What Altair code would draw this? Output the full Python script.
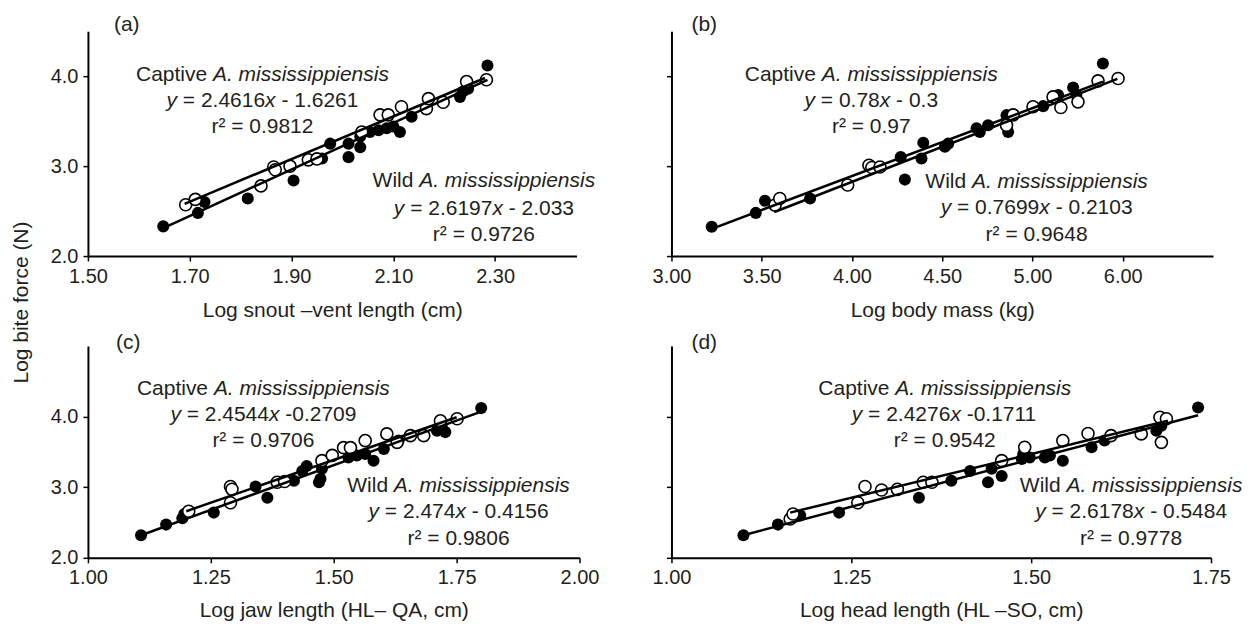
import altair as alt
import pandas as pd

FONT = "Liberation Sans"
INK = "#231f20"
ANN_SIZE = 21
PT = 145

# ---------------- panel (a): log snout-vent length ----------------
a_cap_x = [1.692, 1.711, 1.840, 1.865, 1.868, 1.897, 1.933, 1.950, 2.038, 2.074, 2.090, 2.116, 2.165, 2.169, 2.198, 2.244, 2.283]
a_cap_y = [2.57, 2.63, 2.78, 2.99, 2.96, 3.00, 3.07, 3.08, 3.38, 3.57, 3.57, 3.66, 3.64, 3.75, 3.71, 3.94, 3.96]
a_wild_x = [1.648, 1.716, 1.729, 1.814, 1.904, 1.960, 1.976, 2.012, 2.012, 2.035, 2.035, 2.054, 2.071, 2.087, 2.100, 2.113, 2.136, 2.231, 2.237, 2.247, 2.285]
a_wild_y = [2.33, 2.48, 2.60, 2.64, 2.84, 3.085, 3.25, 3.10, 3.25, 3.21, 3.33, 3.38, 3.40, 3.42, 3.44, 3.38, 3.55, 3.77, 3.83, 3.86, 4.12]
a_cap_line_x = [1.69, 2.28]
a_cap_line_y = [2.58, 3.98]
a_wild_line_x = [1.648, 2.285]
a_wild_line_y = [2.31, 3.96]

# ---------------- panel (b): log body mass ----------------
b_cap_x = [3.574, 3.600, 3.976, 4.094, 4.110, 4.155, 4.856, 4.893, 5.003, 5.114, 5.157, 5.252, 5.363, 5.474]
b_cap_y = [2.567, 2.64, 2.79, 3.01, 2.985, 2.99, 3.455, 3.57, 3.66, 3.77, 3.652, 3.715, 3.948, 3.974]
b_wild_x = [3.223, 3.467, 3.518, 3.768, 4.270, 4.293, 4.395, 4.385, 4.515, 4.533, 4.690, 4.708, 4.754, 4.856, 4.865, 5.059, 5.142, 5.225, 5.243, 5.390]
b_wild_y = [2.326, 2.48, 2.615, 2.64, 3.10, 2.85, 3.26, 3.085, 3.215, 3.25, 3.42, 3.38, 3.455, 3.567, 3.38, 3.667, 3.79, 3.874, 3.79, 4.14]
b_cap_line_x = [3.57, 5.47]
b_cap_line_y = [2.49, 3.97]
b_wild_line_x = [3.22, 5.39]
b_wild_line_y = [2.30, 3.94]

# ---------------- panel (c): log jaw length ----------------
c_cap_x = [1.205, 1.290, 1.293, 1.290, 1.385, 1.400, 1.476, 1.497, 1.520, 1.534, 1.564, 1.608, 1.629, 1.656, 1.683, 1.717, 1.751]
c_cap_y = [2.66, 3.01, 2.97, 2.78, 3.07, 3.08, 3.376, 3.45, 3.56, 3.56, 3.66, 3.755, 3.635, 3.73, 3.73, 3.94, 3.97]
c_wild_x = [1.108, 1.159, 1.192, 1.196, 1.256, 1.341, 1.365, 1.419, 1.436, 1.445, 1.470, 1.473, 1.476, 1.530, 1.547, 1.564, 1.581, 1.602, 1.632, 1.710, 1.720, 1.727, 1.800]
c_wild_y = [2.32, 2.47, 2.56, 2.62, 2.64, 3.01, 2.85, 3.09, 3.23, 3.30, 3.07, 3.12, 3.26, 3.42, 3.45, 3.47, 3.376, 3.54, 3.66, 3.80, 3.85, 3.78, 4.12]
c_cap_line_x = [1.20, 1.75]
c_cap_line_y = [2.66, 3.99]
c_wild_line_x = [1.108, 1.80]
c_wild_line_y = [2.32, 4.07]

# ---------------- panel (d): log head length ----------------
d_cap_x = [1.165, 1.169, 1.259, 1.269, 1.292, 1.314, 1.350, 1.362, 1.459, 1.491, 1.544, 1.579, 1.611, 1.653, 1.679, 1.688, 1.681]
d_cap_y = [2.55, 2.62, 2.78, 3.01, 2.96, 2.97, 3.07, 3.07, 3.376, 3.565, 3.66, 3.76, 3.73, 3.755, 3.99, 3.97, 3.635]
d_wild_x = [1.100, 1.148, 1.179, 1.233, 1.344, 1.389, 1.415, 1.440, 1.445, 1.459, 1.487, 1.489, 1.498, 1.519, 1.526, 1.544, 1.584, 1.602, 1.674, 1.681, 1.732]
d_wild_y = [2.32, 2.47, 2.60, 2.64, 2.85, 3.09, 3.23, 3.07, 3.26, 3.16, 3.40, 3.47, 3.42, 3.42, 3.45, 3.376, 3.565, 3.66, 3.80, 3.87, 4.13]
d_cap_line_x = [1.165, 1.69]
d_cap_line_y = [2.64, 3.94]
d_wild_line_x = [1.10, 1.732]
d_wild_line_y = [2.32, 4.02]

# ---------------- axes: ticks and labels ----------------
a_xticks = [1.5, 1.7, 1.9, 2.1, 2.3]
a_xlabels = ["1.50", "1.70", "1.90", "2.10", "2.30"]
b_xticks = [3.0, 3.5, 4.0, 4.5, 5.0, 5.5]
b_xlabels = ["3.00", "3.50", "4.00", "4.50", "5.00", "6.00"]
c_xticks = [1.0, 1.25, 1.5, 1.75, 2.0]
c_xlabels = ["1.00", "1.25", "1.50", "1.75", "2.00"]
d_xticks = [1.0, 1.25, 1.5, 1.75]
d_xlabels = ["1.00", "1.25", "1.50", "1.75"]
y_ticks = [2, 3, 4]
y_labels = ["2.0", "3.0", "4.0"]

x_titles = ["Log snout \u2013vent length (cm)", "Log body mass (kg)",
            "Log jaw length (HL\u2013 QA, cm)", "Log head length (HL \u2013SO, cm)"]
y_title = "Log bite force (N)"
tags = ["(a)", "(b)", "(c)", "(d)"]

# ---------------- annotation texts ----------------
cap_name = ["Captive", "A. mississippiensis"]
wild_name = ["Wild", "A. mississippiensis"]
a_cap_eq = ["2.4616", "- 1.6261", "0.9812"]
a_wild_eq = ["2.6197", "- 2.033", "0.9726"]
b_cap_eq = ["0.78", "- 0.3", "0.97"]
b_wild_eq = ["0.7699", "- 0.2103", "0.9648"]
c_cap_eq = ["2.4544", "-0.2709", "0.9706"]
c_wild_eq = ["2.474", "- 0.4156", "0.9806"]
d_cap_eq = ["2.4276", "-0.1711", "0.9542"]
d_wild_eq = ["2.6178", "- 0.5484", "0.9778"]

# annotation anchors (data units): centre x, and y of the three lines
a_cap_at = (1.843, [4.017, 3.722, 3.433])
a_wild_at = (2.278, [2.833, 2.522, 2.233])
b_cap_at = (4.107, [4.017, 3.722, 3.433])
b_wild_at = (5.023, [2.826, 2.533, 2.233])
c_cap_at = (1.357, [4.397, 4.028, 3.660])
c_wild_at = (1.754, [3.021, 2.643, 2.265])
d_cap_at = (1.380, [4.397, 4.028, 3.660])
d_wild_at = (1.639, [3.021, 2.643, 2.265])

# Arial / Liberation Sans advance widths (em)
METRICS = {" ": 0.278, ".": 0.278, "=": 0.584, "-": 0.333, "x": 0.5, "y": 0.5,
           "r": 0.333, "\u00b2": 0.333, "C": 0.722, "a": 0.556, "p": 0.556,
           "t": 0.278, "i": 0.222, "v": 0.5, "e": 0.556, "A": 0.667, "m": 0.833,
           "s": 0.5, "n": 0.556, "W": 0.944, "l": 0.222, "d": 0.556}


def tw(s):
    return sum(METRICS.get(ch, 0.556) for ch in s) * ANN_SIZE


def block_lines(name, eq, at):
    xc, ys = at
    l1 = [(name[0] + " ", "normal"), (name[1], "italic")]
    l2 = [("y", "italic"), (" = " + eq[0], "normal"), ("x", "italic"), (" " + eq[1], "normal")]
    l3 = [("r\u00b2 = " + eq[2], "normal")]
    return [(xc, ys[0], l1), (xc, ys[1], l2), (xc, ys[2], l3)]


def label_expr(values, labels):
    expr = "''"
    for v, l in zip(reversed(values), reversed(labels)):
        expr = f"abs(datum.value - {v}) < 1e-6 ? '{l}' : ({expr})"
    return expr


def panel(tag, cap, wild, capline, wildline, xdom, ydom, xticks, xlabels, xtitle,
          w, h, show_ylabels, ann, tag_dx, tag_offset, title_pad, with_ytitle=False):
    xscale = alt.Scale(domain=xdom, nice=False, zero=False)
    yscale = alt.Scale(domain=ydom, nice=False, zero=False)
    xaxis = alt.Axis(values=xticks, labelExpr=label_expr(xticks, xlabels),
                     title=xtitle, titlePadding=title_pad, labelFlush=False)
    yargs = dict(values=y_ticks, labelExpr=label_expr(y_ticks, y_labels),
                 labels=show_ylabels, labelFlush=False)
    if with_ytitle:
        yargs.update(title=y_title, titleX=-56, titleY=271, titleAlign="center",
                     titleBaseline="bottom")
    else:
        yargs.update(title=None)
    yaxis = alt.Axis(**yargs)
    xenc = alt.X("x:Q", scale=xscale, axis=xaxis)
    yenc = alt.Y("y:Q", scale=yscale, axis=yaxis)

    wild_df = pd.DataFrame({"x": wild[0], "y": wild[1]})
    cap_df = pd.DataFrame({"x": cap[0], "y": cap[1]})
    layers = [
        alt.Chart(wild_df).mark_point(shape="circle", filled=True, color="black",
                                      size=PT, opacity=1).encode(x=xenc, y=yenc),
        alt.Chart(cap_df).mark_point(shape="circle", filled=True, fill="white",
                                     stroke="black", strokeWidth=1.6, size=PT,
                                     opacity=1).encode(x=xenc, y=yenc),
    ]
    for lx, ly in (capline, wildline):
        ldf = pd.DataFrame({"x": lx, "y": ly})
        layers.append(alt.Chart(ldf).mark_line(color="black", strokeWidth=2.5)
                      .encode(x=xenc, y=yenc))
    for xc, yc, pieces in ann:
        total = sum(tw(t) for t, _ in pieces)
        off = -total / 2
        for t, style in pieces:
            lead = len(t) - len(t.lstrip(" "))
            tdf = pd.DataFrame({"x": [xc], "y": [yc], "t": [t.strip()]})
            layers.append(
                alt.Chart(tdf).mark_text(font=FONT, fontSize=ANN_SIZE, color=INK,
                                         align="left", baseline="middle",
                                         dx=round(off + lead * METRICS[" "] * ANN_SIZE, 1),
                                         fontStyle=style)
                .encode(x=xenc, y=yenc, text="t:N"))
            off += tw(t)
    return alt.layer(*layers).properties(
        width=w, height=h,
        title=alt.TitleParams(text=tag, anchor="start", frame="group", dx=tag_dx,
                              offset=tag_offset, baseline="alphabetic", fontSize=21,
                              font=FONT, fontWeight="normal", color=INK))


pa = panel(tags[0], (a_cap_x, a_cap_y), (a_wild_x, a_wild_y),
           (a_cap_line_x, a_cap_line_y), (a_wild_line_x, a_wild_line_y),
           [1.5, 2.46], [2.0, 4.5], a_xticks, a_xlabels, x_titles[0], 489, 225, True,
           block_lines(cap_name, a_cap_eq, a_cap_at) + block_lines(wild_name, a_wild_eq, a_wild_at),
           26, -21, 14, with_ytitle=True)
pb = panel(tags[1], (b_cap_x, b_cap_y), (b_wild_x, b_wild_y),
           (b_cap_line_x, b_cap_line_y), (b_wild_line_x, b_wild_line_y),
           [3.0, 6.0], [2.0, 4.5], b_xticks, b_xlabels, x_titles[1], 542, 225, False,
           block_lines(cap_name, b_cap_eq, b_cap_at) + block_lines(wild_name, b_wild_eq, b_wild_at),
           20, -21, 14)
pc = panel(tags[2], (c_cap_x, c_cap_y), (c_wild_x, c_wild_y),
           (c_cap_line_x, c_cap_line_y), (c_wild_line_x, c_wild_line_y),
           [1.0, 2.0], [2.0, 5.0], c_xticks, c_xlabels, x_titles[2], 492, 212, True,
           block_lines(cap_name, c_cap_eq, c_cap_at) + block_lines(wild_name, c_wild_eq, c_wild_at),
           28, -24, 12)
pd_ = panel(tags[3], (d_cap_x, d_cap_y), (d_wild_x, d_wild_y),
            (d_cap_line_x, d_cap_line_y), (d_wild_line_x, d_wild_line_y),
            [1.0, 1.75], [2.0, 5.0], d_xticks, d_xlabels, x_titles[3], 540, 212, False,
            block_lines(cap_name, d_cap_eq, d_cap_at) + block_lines(wild_name, d_wild_eq, d_wild_at),
            20, -24, 12)

chart = (
    alt.concat(pa, pb, pc, pd_, columns=2, spacing={"row": 90, "column": 92},
               bounds="flush", align="each")
    .properties(padding={"left": 3, "top": 6, "right": 0, "bottom": 0})
    .configure_view(stroke=None)
    .configure_axis(domainColor="black", domainWidth=2, tickColor="black",
                    tickWidth=1.5, tickSize=5, labelFont=FONT, labelFontSize=20,
                    labelColor=INK, titleFont=FONT, titleFontSize=21,
                    titleFontWeight="normal", titleColor=INK, grid=False,
                    labelPadding=5)
)

chart.save("out.html", embed_options={"renderer": "svg", "actions": False})
